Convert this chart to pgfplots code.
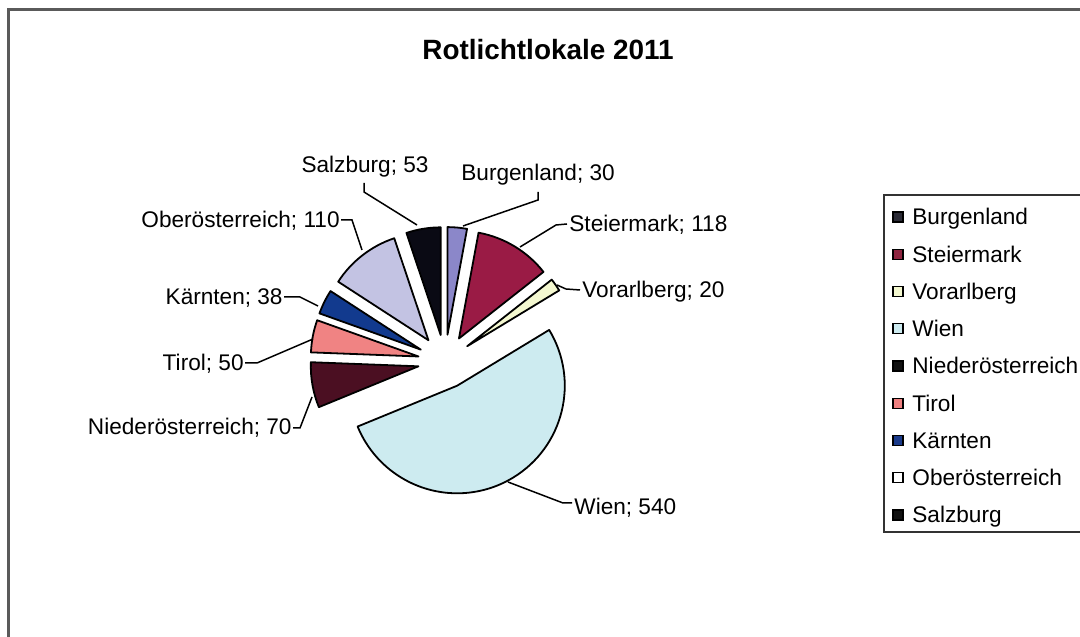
\documentclass[border=0pt]{standalone}
\usepackage{pgfplots}
\pgfplotsset{compat=1.18}
\usepackage{fontspec}
\setmainfont{Liberation Sans}

% slice colours, clockwise from 12 o'clock
\definecolor{c0}{HTML}{8B87C9}
\definecolor{c1}{HTML}{9A1B45}
\definecolor{c2}{HTML}{F4F8D0}
\definecolor{c3}{HTML}{CDEBF0}
\definecolor{c4}{HTML}{4B0F22}
\definecolor{c5}{HTML}{F08383}
\definecolor{c6}{HTML}{123A8E}
\definecolor{c7}{HTML}{C3C3E3}
\definecolor{c8}{HTML}{0A0A14}
% legend swatches (as they look in the scan)
\definecolor{l0}{HTML}{2A2A35}
\definecolor{l1}{HTML}{8E2540}
\definecolor{l2}{HTML}{F4F8D0}
\definecolor{l3}{HTML}{CDEBF0}
\definecolor{l4}{HTML}{111111}
\definecolor{l5}{HTML}{EE8080}
\definecolor{l6}{HTML}{1A3A8A}
\definecolor{l7}{HTML}{FFFFFF}
\definecolor{l8}{HTML}{111111}
\definecolor{framegray}{HTML}{5A5A5A}

\newcommand\lbl{\fontsize{11.35}{13.6}\selectfont}

\begin{document}
\begin{tikzpicture}
% Burgenland, Steiermark, Vorarlberg, Wien, Niederoesterreich, Tirol, Kaernten, Oberoesterreich, Salzburg
\def\values{30,118,20,540,70,50,38,110,53}
\gdef\total{0}
\foreach \v in \values {\pgfmathsetmacro\t{\total+\v}\xdef\total{\t}}
\gdef\cum{0}
\foreach \v [count=\i from 0] in \values {
  \pgfmathsetmacro\sa{90-360*(\cum/\total)}
  \pgfmathsetmacro\ea{90-360*((\cum+\v)/\total)}
  \pgfmathsetmacro\ma{(\sa+\ea)/2}
  \expandafter\xdef\csname sa\i\endcsname{\sa}
  \expandafter\xdef\csname ea\i\endcsname{\ea}
  \expandafter\xdef\csname ma\i\endcsname{\ma}
  \pgfmathsetmacro\t{\cum+\v}
  \xdef\cum{\t}
}
\def\cx{445}\def\cy{275.4}\def\ex{27}\def\R{53.8bp}

\begin{axis}[
  hide axis, scale only axis,
  width=540bp, height=318.5bp,
  xmin=0, xmax=1080, ymin=0, ymax=637,
  clip=false, anchor=origin, at={(0,0)},
]
% frame of the chart area
\draw[framegray, line width=1.1bp] (axis cs:8.5,-20) -- (axis cs:8.5,627.5) -- (axis cs:1100,627.5);

% title
\node[anchor=base, font=\fontsize{14}{16}\selectfont\bfseries, inner sep=0]
  at (axis cs:548,577) {Rotlichtlokale 2011};

% slices
\pgfplotsinvokeforeach{0,...,8}{
  \filldraw[fill=c#1, draw=black, line width=0.9bp, line join=round]
    (axis cs:{\cx+\ex*cos(\csname ma#1\endcsname)},{\cy+\ex*sin(\csname ma#1\endcsname)})
    -- ++(\csname sa#1\endcsname:\R)
    arc[start angle=\csname sa#1\endcsname, end angle=\csname ea#1\endcsname, radius=\R]
    -- cycle;
}

% leader lines
\begin{scope}[line width=0.75bp, black]
\draw (axis cs:364,454) -- (axis cs:364,445) -- (axis cs:417,412);
\draw (axis cs:538,445) -- (axis cs:538,437) -- (axis cs:463,411);
\draw (axis cs:567,413) -- (axis cs:556,412) -- (axis cs:520,390);
\draw (axis cs:580,347) -- (axis cs:566,348) -- (axis cs:557,352);
\draw (axis cs:572,134) -- (axis cs:563,134) -- (axis cs:508,155);
\draw (axis cs:341,417) -- (axis cs:352,417) -- (axis cs:362,387);
\draw (axis cs:284,340) -- (axis cs:300,340) -- (axis cs:318,331);
\draw (axis cs:245,274) -- (axis cs:257,274) -- (axis cs:313,298);
\draw (axis cs:293,209) -- (axis cs:300,209) -- (axis cs:312,240);
\end{scope}

% data labels
\begin{scope}[every node/.style={inner sep=0, font=\lbl}]
\node[anchor=base] at (axis cs:365,464) {Salzburg; 53};
\node[anchor=base west] at (axis cs:461,456) {Burgenland; 30};
\node[anchor=base west] at (axis cs:569,405) {Steiermark; 118};
\node[anchor=base west] at (axis cs:582,339) {Vorarlberg; 20};
\node[anchor=base west] at (axis cs:574,122) {Wien; 540};
\node[anchor=base east] at (axis cs:340,409) {Oberösterreich; 110};
\node[anchor=base east] at (axis cs:283,332) {Kärnten; 38};
\node[anchor=base east] at (axis cs:244,266) {Tirol; 50};
\node[anchor=base east] at (axis cs:292,202) {Niederösterreich; 70};
\end{scope}

% legend
\draw[black!80, line width=0.8bp] (axis cs:884,442) rectangle (axis cs:1100,105);
\pgfplotsinvokeforeach{0,...,8}{
  \filldraw[fill=l#1, draw=black, line width=0.6bp]
    (axis cs:893,{420-37.25*#1-5}) rectangle (axis cs:903,{420-37.25*#1+5});
}
\begin{scope}[every node/.style={inner sep=0, font=\lbl, anchor=base west}]
\node at (axis cs:912,412) {Burgenland};
\node at (axis cs:912,374.75) {Steiermark};
\node at (axis cs:912,337.5) {Vorarlberg};
\node at (axis cs:912,300.25) {Wien};
\node at (axis cs:912,263) {Niederösterreich};
\node at (axis cs:912,225.75) {Tirol};
\node at (axis cs:912,188.5) {Kärnten};
\node at (axis cs:912,151.25) {Oberösterreich};
\node at (axis cs:912,114) {Salzburg};
\end{scope}
\end{axis}
\pgfresetboundingbox
\useasboundingbox (0,0) rectangle (540bp,318.5bp);
\end{tikzpicture}
\end{document}
